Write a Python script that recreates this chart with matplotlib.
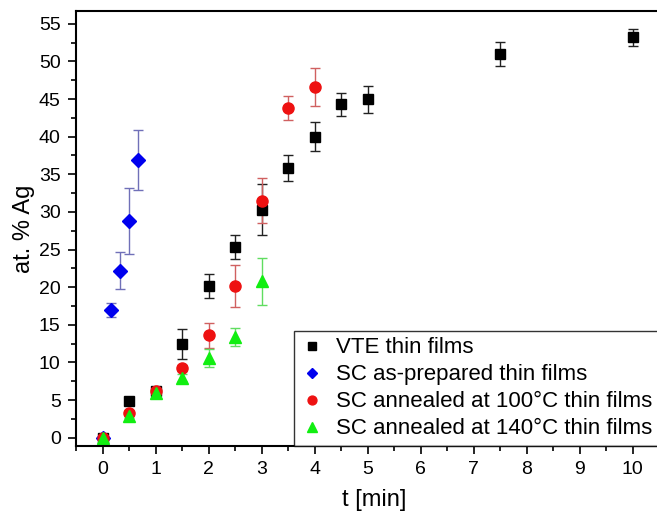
import numpy as np
import matplotlib
matplotlib.use("Agg")
import matplotlib.pyplot as plt
from matplotlib.ticker import MultipleLocator
from matplotlib.lines import Line2D

plt.rcParams['font.family'] = ['Liberation Sans', 'DejaVu Sans']

# VTE thin films
t_vte = [0, 0.5, 1, 1.5, 2, 2.5, 3, 3.5, 4, 4.5, 5, 7.5, 10]
ag_vte = [0, 4.9, 6.2, 12.5, 20.2, 25.4, 30.3, 35.8, 40.0, 44.3, 45.0, 51.0, 53.2]
err_vte = [0.3, 0.3, 0.3, 2.0, 1.6, 1.6, 3.4, 1.7, 1.9, 1.5, 1.8, 1.6, 1.15]

# SC as-prepared thin films
t_asp = [0, 1/6, 1/3, 0.5, 2/3]
ag_asp = [0, 17.0, 22.2, 28.8, 36.9]
err_asp = [0.3, 0.9, 2.5, 4.4, 4.0]

# SC annealed at 100 C
t_100 = [0, 0.5, 1, 1.5, 2, 2.5, 3, 3.5, 4]
ag_100 = [0, 3.3, 6.2, 9.2, 13.6, 20.2, 31.5, 43.8, 46.6]
err_100 = [0.2, 0.3, 0.3, 0.4, 1.7, 2.8, 3.0, 1.6, 2.5]

# SC annealed at 140 C
t_140 = [0, 0.5, 1, 1.5, 2, 2.5, 3]
ag_140 = [0, 2.9, 5.9, 8.0, 10.6, 13.4, 20.8]
err_140 = [0.2, 0.3, 0.6, 0.5, 1.2, 1.15, 3.1]

series = [
    (t_vte, ag_vte, err_vte, "s", "black", "#222222", 7.5, "VTE thin films"),
    (t_asp, ag_asp, err_asp, "D", "#0000ee", "#7070b8", 7.0, "SC as-prepared thin films"),
    (t_100, ag_100, err_100, "o", "#ee1111", "#d06060", 8.0, "SC annealed at 100\u00b0C thin films"),
    (t_140, ag_140, err_140, "^", "#11ee11", "#60dd60", 8.5, "SC annealed at 140\u00b0C thin films"),
]

fig = plt.figure(figsize=(6.57, 5.13), dpi=100)
ax = fig.add_axes([76/657, 1 - 446/513, (672.5 - 76)/657, (446 - 11)/513])

handles = []
for t, ag, err, mk, col, ecol, ms, lab in series:
    ax.errorbar(t, ag, yerr=err, fmt=mk, color=col, ecolor=ecol, mec=col,
                ms=ms, capsize=3.3, elinewidth=1.0, capthick=1.0)
    # legend shows the marker only
    handles.append(Line2D([], [], ls='none', marker=mk, color=col, mec=col,
                          ms=ms * 0.8, label=lab))

ax.set_xlim(-0.5, 10.75)
ax.set_ylim(-1.1, 56.7)
ax.xaxis.set_major_locator(MultipleLocator(1))
ax.xaxis.set_minor_locator(MultipleLocator(0.5))
ax.yaxis.set_major_locator(MultipleLocator(5))
ax.yaxis.set_minor_locator(MultipleLocator(2.5))
ax.tick_params(which='major', direction='out', length=6, width=1.2,
               labelsize=14, pad=5)
ax.tick_params(which='minor', direction='out', length=3.5, width=1.2)
ax.tick_params(top=False, right=False)
for sp in ax.spines.values():
    sp.set_linewidth(1.5)

ax.set_xlabel("t [min]", fontsize=17, labelpad=8)
ax.set_ylabel("at. % Ag", fontsize=17, labelpad=3)

leg = ax.legend(handles=handles, loc='lower left',
                bbox_to_anchor=((294 - 76)/(672.5 - 76), 0.0),
                borderaxespad=0, fontsize=16, frameon=True, fancybox=False,
                handletextpad=0.6, labelspacing=0.27, handlelength=1.0,
                borderpad=0.3)
leg.get_frame().set_edgecolor('black')
leg.get_frame().set_linewidth(1.0)

fig.savefig("out.png", dpi=100)
